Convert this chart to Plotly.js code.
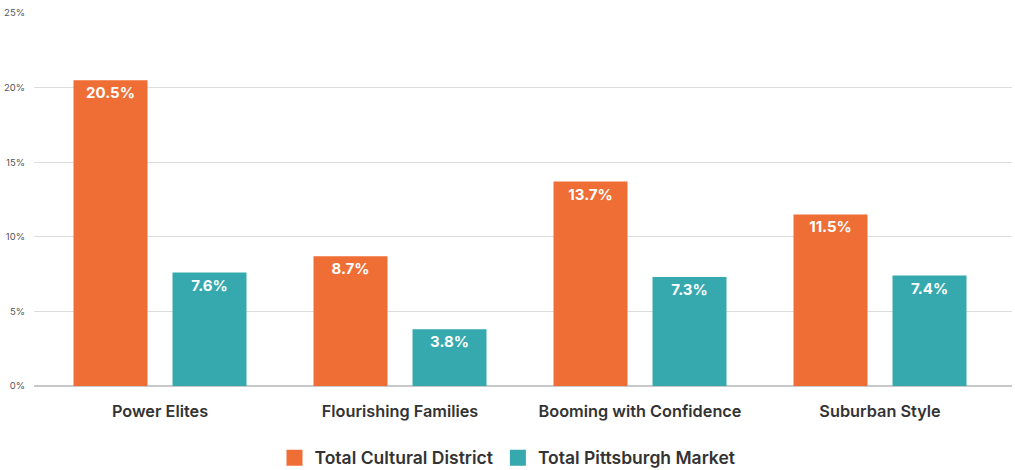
<!DOCTYPE html>
<html><head><meta charset="utf-8">
<script src="https://cdn.plot.ly/plotly-3.0.1.min.js"></script>
<style>html,body{margin:0;padding:0;background:#fff;}#chart{width:1015px;height:470px;}</style>
</head><body><div id="chart"></div>
<script>
var categories = ["Power Elites", "Flourishing Families", "Booming with Confidence", "Suburban Style"];
var culturalDistrict = [20.5, 8.7, 13.7, 11.5];
var pittsburghMarket = [7.6, 3.8, 7.3, 7.4];
var seriesNames = ["Total Cultural District", "Total Pittsburgh Market"];
var seriesColors = ["#EF6E35", "#35A9AE"];
var yTicks = [0, 5, 10, 15, 20, 25];

function labels(arr){ return arr.map(function(v){ return v.toFixed(1) + "%"; }); }

var textFont = {family: "Inter, 'Open Sans', sans-serif", size: 15, color: "#ffffff", weight: 700};
var seriesValues = [culturalDistrict, pittsburghMarket];
var traces = [];
seriesValues.forEach(function(vals, i){
  traces.push({type: "bar", name: seriesNames[i], x: categories, y: vals, text: labels(vals),
   textposition: "inside", insidetextanchor: "end", textfont: textFont, textangle: 0,
   marker: {color: seriesColors[i]}, hoverinfo: "skip", showlegend: false});
});
seriesValues.forEach(function(vals, i){
  traces.push({type: "scatter", mode: "markers", name: seriesNames[i], x: [categories[0]], y: [null],
   marker: {symbol: "square", size: 18, color: seriesColors[i]}, hoverinfo: "skip", showlegend: true});
});

var layout = {
  width: 1015, height: 470,
  margin: {l: 34, r: 3, t: 13, b: 84, autoexpand: false},
  paper_bgcolor: "#ffffff", plot_bgcolor: "#ffffff",
  barmode: "group", bargap: 0.175, bargroupgap: 0.2525,
  font: {family: "Inter, 'Open Sans', sans-serif", color: "#333333"},
  xaxis: {type: "category", range: [-0.525, 3.55], showgrid: false, zeroline: false, showline: false, automargin: false,
    ticks: "", ticklabelstandoff: 14, tickfont: {size: 16.3, color: "#333333", weight: 600}},
  yaxis: {range: [0, 25], tickvals: yTicks, ticktext: yTicks.map(function(v){return v + "%";}), automargin: false,
    showgrid: true, gridcolor: "#dddddd", gridwidth: 1.2, zeroline: true, zerolinecolor: "#c8c8c8", zerolinewidth: 1.5,
    showline: false, ticks: "", ticklabelstandoff: 8, tickfont: {size: 9.5, color: "#555555"}},
  showlegend: true,
  legend: {orientation: "h", x: 0.5, xanchor: "center", xref: "container", yref: "container", y: 0.026, yanchor: "middle",
    font: {size: 17.5, color: "#333333", weight: 600}, itemwidth: 30, traceorder: "normal"}
};

Plotly.newPlot("chart", traces, layout, {displayModeBar: false, staticPlot: true});
</script></body></html>
